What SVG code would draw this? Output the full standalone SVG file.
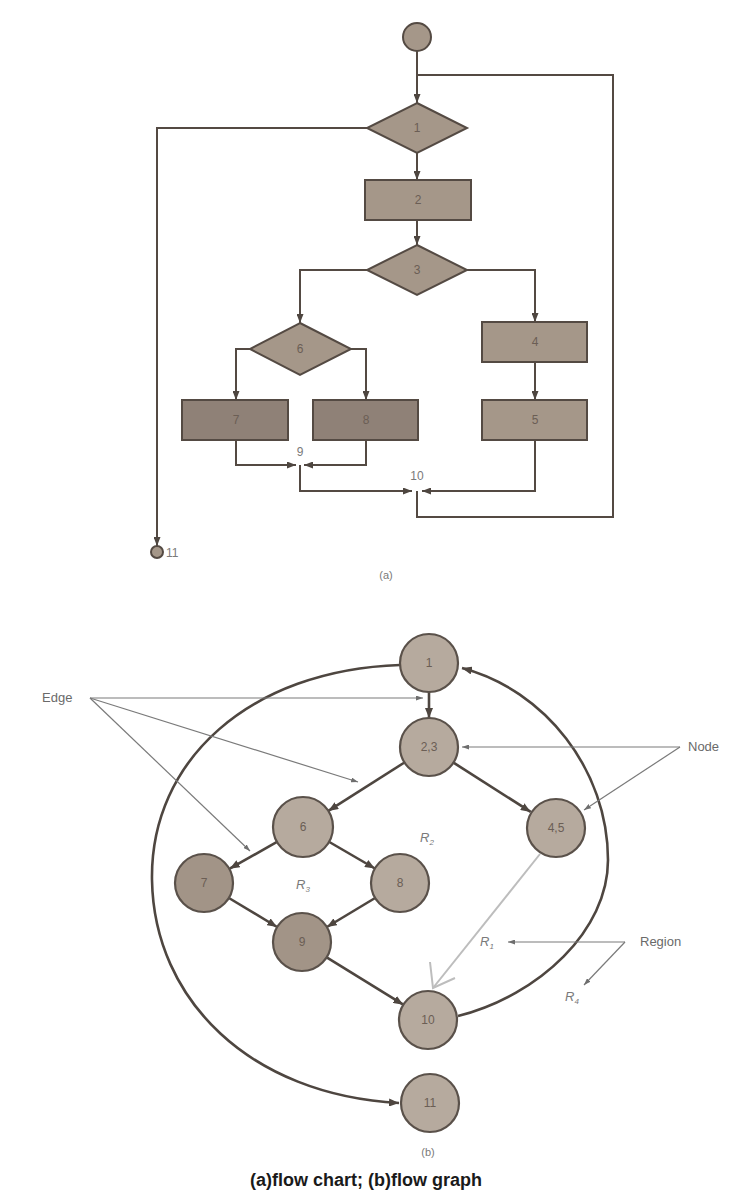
<svg xmlns="http://www.w3.org/2000/svg" width="733" height="1191" viewBox="0 0 733 1191">
  <defs>
    <marker id="ah" markerUnits="userSpaceOnUse" markerWidth="9" markerHeight="7" refX="9" refY="3.5" orient="auto">
      <path d="M0,0 L9,3.5 L0,7 z" fill="#4e4640"/>
    </marker>
    <marker id="ahs" markerUnits="userSpaceOnUse" markerWidth="7" markerHeight="5" refX="7" refY="2.5" orient="auto">
      <path d="M0,0 L7,2.5 L0,5 z" fill="#6e6e6e"/>
    </marker>
    <marker id="ahg" markerUnits="userSpaceOnUse" markerWidth="10" markerHeight="8" refX="10" refY="4" orient="auto">
      <path d="M0,0 L10,4 L0,8 z" fill="#4e4640"/>
    </marker>
  </defs>
  <style>
    .shape { fill: #a59789; stroke: #544a43; stroke-width: 2; }
    .dark { fill: #8f8177; }
    .node { fill: #b6aa9e; stroke: #5a514a; stroke-width: 2.2; }
    .nodedark { fill: #a29487; }
    .line { fill: none; stroke: #544a43; stroke-width: 2; }
    .gline { fill: none; stroke: #4e4640; stroke-width: 2.6; }
    .lead { fill: none; stroke: #7a7a7a; stroke-width: 1.2; }
    .lbl { font-family: "Liberation Sans", Arial, sans-serif; font-size: 12px; fill: #6b5e55; text-anchor: middle; }
    .soft { fill: #7a7a7a; }
    .note { font-family: "Liberation Sans", Arial, sans-serif; font-size: 13px; fill: #6a6a6a; }
    .reg { font-family: "Liberation Sans", Arial, sans-serif; font-size: 13px; font-style: italic; fill: #7a7a7a; }
  </style>

  <rect width="733" height="1191" fill="#ffffff"/>

  <!-- (a) flow chart connectors -->
  <g id="flowchart-connectors">
    <path class="line" d="M417,51 V103" marker-end="url(#ah)"/>
    <path class="line" d="M417,491 V517 H613 V75 H417"/>
    <path class="line" d="M367,128 H157 V546" marker-end="url(#ah)"/>
    <path class="line" d="M417,153 V180" marker-end="url(#ah)"/>
    <path class="line" d="M417,220 V245" marker-end="url(#ah)"/>
    <path class="line" d="M367,270 H300 V323" marker-end="url(#ah)"/>
    <path class="line" d="M467,270 H535 V322" marker-end="url(#ah)"/>
    <path class="line" d="M535,362 V400" marker-end="url(#ah)"/>
    <path class="line" d="M250,349 H236 V400" marker-end="url(#ah)"/>
    <path class="line" d="M351,349 H366 V400" marker-end="url(#ah)"/>
    <path class="line" d="M236,440 V465 H296" marker-end="url(#ah)"/>
    <path class="line" d="M366,440 V465 H304" marker-end="url(#ah)"/>
    <path class="line" d="M300,465 V491 H412" marker-end="url(#ah)"/>
    <path class="line" d="M535,440 V491 H422" marker-end="url(#ah)"/>
  </g>

  <!-- (a) flow chart nodes -->
  <g id="fc-start"><circle class="shape" cx="417" cy="37" r="14"/></g>
  <g id="fc-1"><polygon class="shape" points="417,103 467,128 417,153 367,128"/><text class="lbl" x="417" y="132">1</text></g>
  <g id="fc-2"><rect class="shape" x="365" y="180" width="106" height="40"/><text class="lbl" x="418" y="204">2</text></g>
  <g id="fc-3"><polygon class="shape" points="417,245 467,270 417,295 367,270"/><text class="lbl" x="417" y="274">3</text></g>
  <g id="fc-6"><polygon class="shape" points="300,323 351,349 300,375 250,349"/><text class="lbl" x="300" y="353">6</text></g>
  <g id="fc-4"><rect class="shape" x="482" y="322" width="105" height="40"/><text class="lbl" x="535" y="346">4</text></g>
  <g id="fc-5"><rect class="shape" x="482" y="400" width="105" height="40"/><text class="lbl" x="535" y="424">5</text></g>
  <g id="fc-7"><rect class="shape dark" x="182" y="400" width="106" height="40"/><text class="lbl" x="236" y="424">7</text></g>
  <g id="fc-8"><rect class="shape dark" x="313" y="400" width="105" height="40"/><text class="lbl" x="366" y="424">8</text></g>
  <g id="fc-9"><text class="lbl soft" x="300" y="456">9</text></g>
  <g id="fc-10"><text class="lbl soft" x="417" y="480">10</text></g>
  <g id="fc-11"><circle class="shape" cx="157" cy="552" r="6"/><text class="note" x="166" y="557" style="font-size:12px;fill:#7a7a7a">11</text></g>
  <text class="lbl soft" x="386" y="579" style="font-size:11px">(a)</text>

  <!-- (b) flow graph connectors -->
  <g id="graph-connectors">
    <path class="gline" d="M429,692 V718" marker-end="url(#ahg)"/>
    <path class="gline" d="M404.5,762.5 L328.3,810.9" marker-end="url(#ahg)"/>
    <path class="gline" d="M453.5,762.6 L530.7,811.9" marker-end="url(#ahg)"/>
    <path class="gline" d="M277,841.8 L229.7,868.7" marker-end="url(#ahg)"/>
    <path class="gline" d="M328.5,841.5 L374.9,868.5" marker-end="url(#ahg)"/>
    <path class="gline" d="M228.9,898 L277.1,927" marker-end="url(#ahg)"/>
    <path class="gline" d="M375.1,898 L326.9,927" marker-end="url(#ahg)"/>
    <path class="gline" d="M326.7,957.3 L403.3,1004.7" marker-end="url(#ahg)"/>
    <!-- 4,5 to 10, drawn light with an open head -->
    <path d="M540,854 L433,988" fill="none" stroke="#bdbdbd" stroke-width="2"/>
    <path d="M430,962 L433,988 L455,978" fill="none" stroke="#bdbdbd" stroke-width="2"/>
    <!-- 10 back to 1 -->
    <path class="gline" d="M458,1016 C540,995 608,930 608,860 C608,770 545,690 462,668" marker-end="url(#ahg)"/>
    <!-- 1 out to 11 -->
    <path class="gline" d="M400,665 C250,670 150,760 152,880 C154,1000 250,1095 399,1103" marker-end="url(#ahg)"/>
  </g>

  <!-- (b) flow graph nodes -->
  <g id="n1"><circle class="node" cx="429" cy="663" r="29"/><text class="lbl" x="429" y="667">1</text></g>
  <g id="n23"><circle class="node" cx="429" cy="747" r="29"/><text class="lbl" x="429" y="751">2,3</text></g>
  <g id="n45"><circle class="node" cx="556" cy="828" r="29"/><text class="lbl" x="556" y="832">4,5</text></g>
  <g id="n6"><circle class="node" cx="303" cy="827" r="30"/><text class="lbl" x="303" y="831">6</text></g>
  <g id="n7"><circle class="node nodedark" cx="204" cy="883" r="29"/><text class="lbl" x="204" y="887">7</text></g>
  <g id="n8"><circle class="node" cx="400" cy="883" r="29"/><text class="lbl" x="400" y="887">8</text></g>
  <g id="n9"><circle class="node nodedark" cx="302" cy="942" r="29"/><text class="lbl" x="302" y="946">9</text></g>
  <g id="n10"><circle class="node" cx="428" cy="1020" r="29"/><text class="lbl" x="428" y="1024">10</text></g>
  <g id="n11"><circle class="node" cx="430" cy="1103" r="29"/><text class="lbl" x="430" y="1107">11</text></g>

  <!-- region labels -->
  <g id="regions">
    <text class="reg" x="420" y="842">R<tspan font-size="8" dy="3">2</tspan></text>
    <text class="reg" x="296" y="889">R<tspan font-size="8" dy="3">3</tspan></text>
    <text class="reg" x="480" y="946">R<tspan font-size="8" dy="3">1</tspan></text>
    <text class="reg" x="565" y="1001">R<tspan font-size="8" dy="3">4</tspan></text>
  </g>

  <!-- callouts -->
  <g id="callouts">
    <text class="note" x="42" y="702">Edge</text>
    <path class="lead" d="M90,698 H423" marker-end="url(#ahs)"/>
    <path class="lead" d="M90,698 L358,782" marker-end="url(#ahs)"/>
    <path class="lead" d="M90,698 L250,851" marker-end="url(#ahs)"/>
    <text class="note" x="688" y="751">Node</text>
    <path class="lead" d="M680,747 H462" marker-end="url(#ahs)"/>
    <path class="lead" d="M680,747 L584,810" marker-end="url(#ahs)"/>
    <text class="note" x="640" y="946">Region</text>
    <path class="lead" d="M625,942 H508" marker-end="url(#ahs)"/>
    <path class="lead" d="M625,942 L584,985" marker-end="url(#ahs)"/>
  </g>

  <text class="lbl soft" x="428" y="1156" style="font-size:11px">(b)</text>
  <text x="366" y="1186" font-family="Liberation Sans, Arial, sans-serif" font-size="18" font-weight="bold" fill="#1a1a1a" text-anchor="middle">(a)flow chart; (b)flow graph</text>
</svg>
